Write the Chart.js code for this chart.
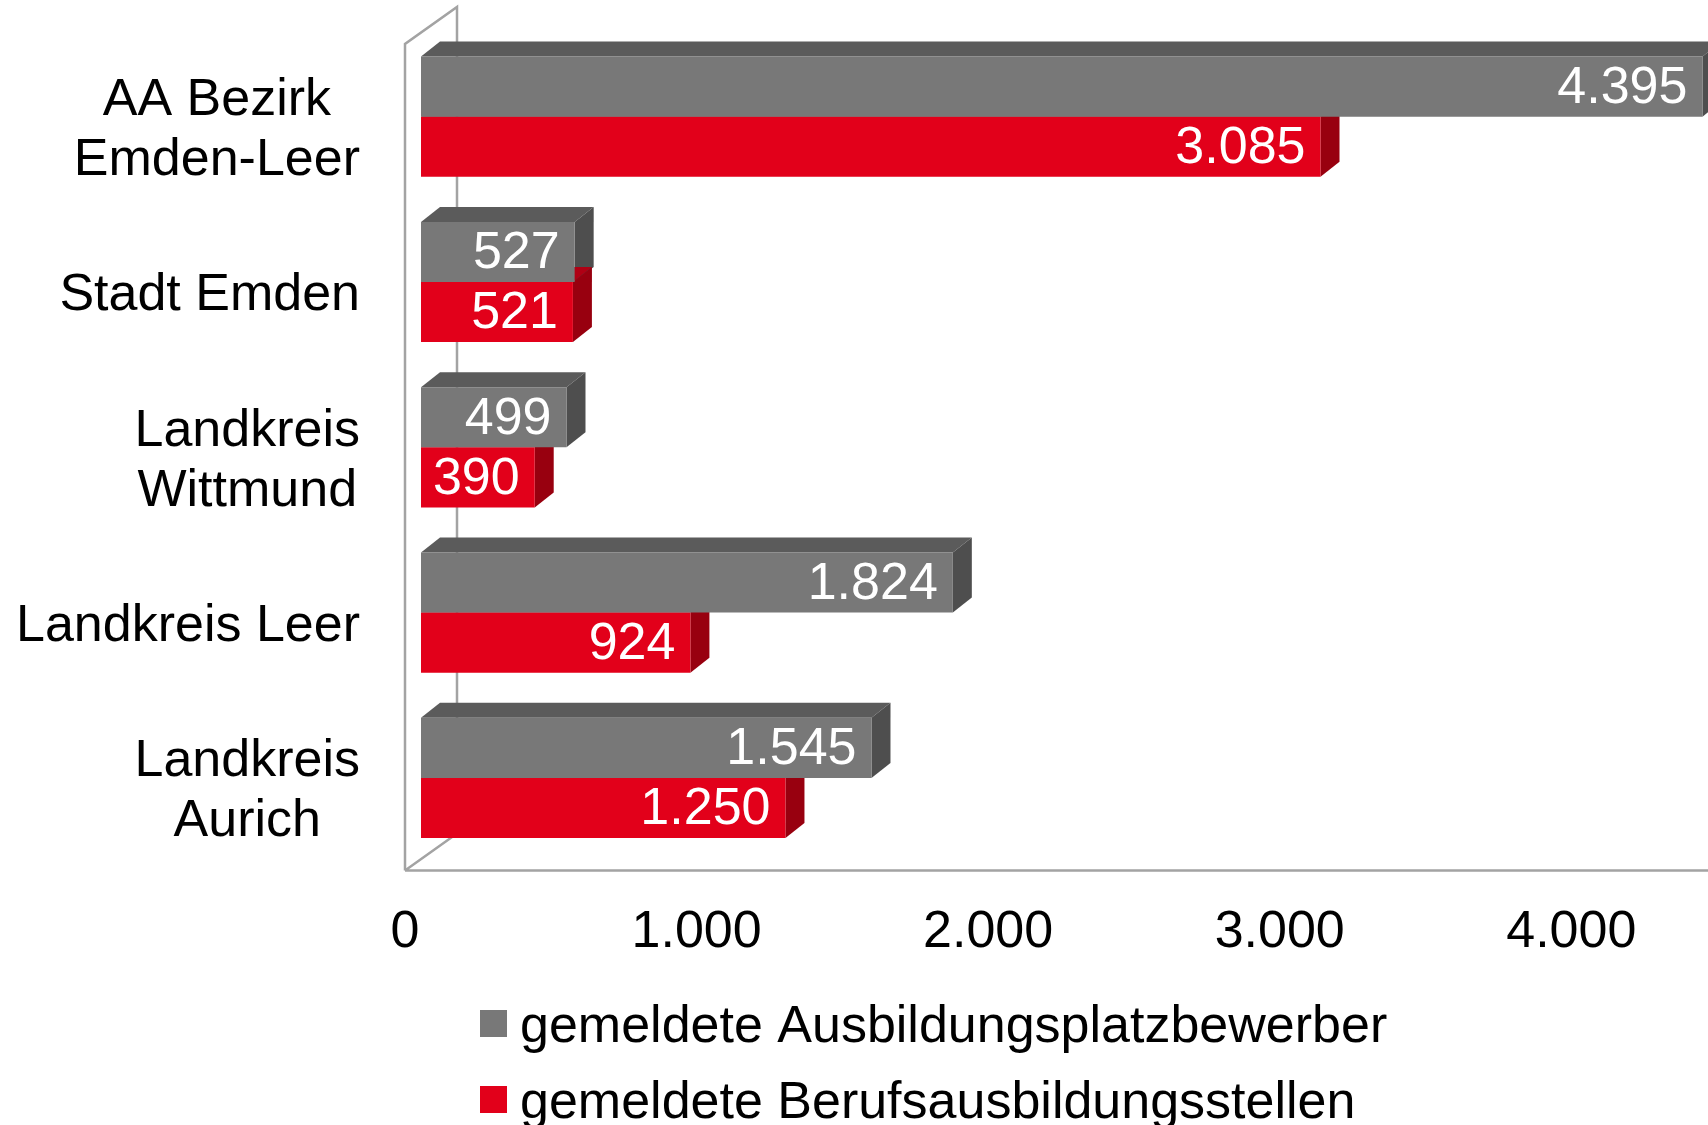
<!DOCTYPE html>
<html>
<head>
<meta charset="utf-8">
<script src="https://cdn.jsdelivr.net/npm/chart.js@4.4.1/dist/chart.umd.min.js"></script>
<style>
html, body { margin: 0; padding: 0; background: #fff; }
#wrap { width: 1708px; height: 1125px; }
</style>
</head>
<body>
<div id="wrap"><canvas id="chart" width="1708" height="1125"></canvas></div>
<script>
// data
const categories = [['AA Bezirk', 'Emden-Leer'], ['Stadt Emden'], ['Landkreis', 'Wittmund'], ['Landkreis Leer'], ['Landkreis', 'Aurich']];
const seriesNames = ['gemeldete Ausbildungsplatzbewerber', 'gemeldete Berufsausbildungsstellen'];
const bewerber = [4395, 527, 499, 1824, 1545];
const stellen = [3085, 521, 390, 924, 1250];
const tickValues = [0, 1000, 2000, 3000, 4000];

const FONT = '"Liberation Sans", Arial, sans-serif';
const frontColors = ['#787878', '#e2001a'];
const topColors = ['#5b5b5b', '#b00014'];
const sideColors = ['#4e4e4e', '#98000f'];
const DX = 19, DY = 15; // depth of the bars

function fmt(v) {
    return String(v).replace(/\B(?=(\d{3})+(?!\d))/g, '.');
}

// walls + floor of the 3d box
const wallPlugin = {
    id: 'walls',
    beforeDatasetsDraw(chart) {
        const {ctx, chartArea: a} = chart;
        const fx = a.left - 16, bx = a.left + 36;
        const ft = a.top + 10, bt = a.top - 27;
        const fb = a.bottom + 10, bb = a.bottom - 27;
        ctx.save();
        ctx.strokeStyle = '#a3a3a3';
        ctx.lineWidth = 2.5;
        ctx.beginPath();
        ctx.moveTo(fx, fb); ctx.lineTo(fx, ft); ctx.lineTo(bx, bt); ctx.lineTo(bx, bb);
        ctx.moveTo(fx, fb); ctx.lineTo(bx, bb);
        ctx.moveTo(fx, fb); ctx.lineTo(chart.width, fb);
        ctx.stroke();

        // top and side faces of every bar
        chart.data.datasets.forEach((ds, i) => {
            chart.getDatasetMeta(i).data.forEach(bar => {
                const l = bar.base, r = bar.x;
                const t = bar.y - bar.height / 2, b = bar.y + bar.height / 2;
                ctx.fillStyle = topColors[i];
                ctx.beginPath();
                ctx.moveTo(l, t); ctx.lineTo(l + DX, t - DY); ctx.lineTo(r + DX, t - DY); ctx.lineTo(r, t);
                ctx.closePath(); ctx.fill();
                ctx.fillStyle = sideColors[i];
                ctx.beginPath();
                ctx.moveTo(r, t); ctx.lineTo(r + DX, t - DY); ctx.lineTo(r + DX, b - DY); ctx.lineTo(r, b);
                ctx.closePath(); ctx.fill();
            });
        });
        ctx.restore();
    }
};

const labelPlugin = {
    id: 'labels',
    afterDatasetsDraw(chart) {
        const {ctx} = chart;
        ctx.save();
        ctx.font = '52px ' + FONT;
        ctx.fillStyle = '#fff';
        ctx.textAlign = 'right';
        ctx.textBaseline = 'middle';
        chart.data.datasets.forEach((ds, i) => {
            chart.getDatasetMeta(i).data.forEach((bar, j) => {
                ctx.fillText(fmt(ds.data[j]), bar.x - 15, bar.y + 2);
            });
        });

        // category labels, block right aligned, lines centred
        const ys = chart.scales.y;
        ctx.fillStyle = '#000';
        ctx.textAlign = 'center';
        ctx.textBaseline = 'middle';
        categories.forEach((lines, j) => {
            const w = Math.max(...lines.map(s => ctx.measureText(s).width));
            const cx = 360 - w / 2;
            const cy = ys.getPixelForValue(j) + 14;
            lines.forEach((s, k) => {
                ctx.fillText(s, cx, cy + (k - (lines.length - 1) / 2) * 60);
            });
        });

        // legend
        ctx.textAlign = 'left';
        ctx.textBaseline = 'alphabetic';
        chart.data.datasets.forEach((ds, i) => {
            const y = 1010 + i * 76;
            ctx.fillStyle = frontColors[i];
            ctx.fillRect(480, y, 27, 27);
            ctx.fillStyle = '#000';
            ctx.fillText(ds.label, 520, y + 32);
        });
        ctx.restore();
    }
};

new Chart('chart', {
    type: 'bar',
    data: {
        labels: categories,
        datasets: [
            {label: seriesNames[0], data: bewerber, backgroundColor: frontColors[0]},
            {label: seriesNames[1], data: stellen, backgroundColor: frontColors[1]}
        ]
    },
    options: {
        indexAxis: 'y',
        responsive: false,
        animation: false,
        layout: {padding: {left: 421, right: 0, top: 34, bottom: 120}},
        datasets: {bar: {categoryPercentage: 0.727, barPercentage: 1.0}},
        scales: {
            x: {
                min: 0,
                max: 4414,
                afterBuildTicks: s => { s.ticks = tickValues.map(v => ({value: v})); },
                grid: {display: false, drawTicks: false},
                border: {display: false},
                ticks: {
                    font: {family: FONT, size: 52},
                    color: '#000',
                    padding: 41,
                    labelOffset: -16,
                    maxRotation: 0,
                    autoSkip: false,
                    callback: v => fmt(v)
                }
            },
            y: {display: false}
        },
        plugins: {
            legend: {display: false},
            tooltip: {enabled: false}
        }
    },
    plugins: [wallPlugin, labelPlugin]
});
</script>
</body>
</html>
